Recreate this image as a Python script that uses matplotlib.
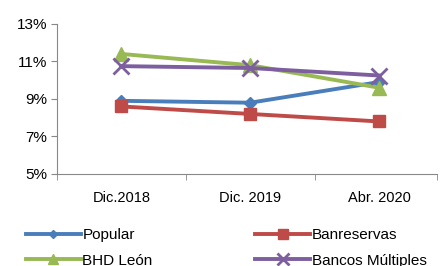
import matplotlib.pyplot as plt
from matplotlib.ticker import FuncFormatter

plt.rcParams['font.family'] = ['Liberation Sans', 'DejaVu Sans']

categories   = [ "Dic.2018", "Dic. 2019", "Abr. 2020" ]
popular      = [ 8.9, 8.8, 9.9 ]
banreservas  = [ 8.6, 8.2, 7.8 ]
bhd_leon     = [ 11.4, 10.8, 9.6 ]
bancos_mult  = [ 10.75, 10.65, 10.25 ]

fig = plt.figure( figsize=( 4.41, 2.66 ), dpi=100 )
ax = fig.add_axes( [ 0.129, 0.346, 0.862, 0.564 ] )

x = range( len( categories ) )
l1, = ax.plot( x, popular, color="#4A7EBB", lw=2.8, marker="D", ms=6, label="Popular" )
l2, = ax.plot( x, banreservas, color="#BE4B48", lw=2.8, marker="s", ms=9, label="Banreservas" )
l3, = ax.plot( x, bhd_leon, color="#98B954", lw=2.8, marker="^", ms=10, label="BHD León" )
l4, = ax.plot( x, bancos_mult, color="#7D5FA0", lw=2.8, marker="x", ms=11, mew=2, label="Bancos Múltiples" )

ax.set_xlim( -0.5, 2.45 )
ax.set_ylim( 5, 13 )
ax.set_yticks( [ 5, 7, 9, 11, 13 ] )
ax.yaxis.set_major_formatter( FuncFormatter( lambda v, p: f"{v:.0f}%" ) )
ax.set_xticks( list( x ) )
ax.set_xticklabels( categories )
ax.set_xticks( [ -0.5, 0.5, 1.5, 2.45 ], minor=True )
ax.tick_params( axis="x", which="major", length=0, pad=12, labelsize=10.5 )
ax.tick_params( axis="x", which="minor", length=4, color="#888888", direction="out" )
ax.tick_params( axis="y", length=4, color="#888888", labelsize=11, pad=3 )

for side in [ "top", "right" ]:
    ax.spines[ side ].set_visible( False )
for side in [ "left", "bottom" ]:
    ax.spines[ side ].set_color( "#888888" )

### Orden por filas como en la referencia
fig.legend( [ l1, l3, l2, l4 ], [ l.get_label() for l in [ l1, l3, l2, l4 ] ],
            loc="upper left", bbox_to_anchor=( 0.045, 0.165 ), ncol=2, frameon=False,
            fontsize=11, handlelength=3.6, handletextpad=0.1, columnspacing=6.7,
            labelspacing=0.75, borderaxespad=0, markerscale=0.75 )

fig.savefig( "out.png", dpi=100 )
